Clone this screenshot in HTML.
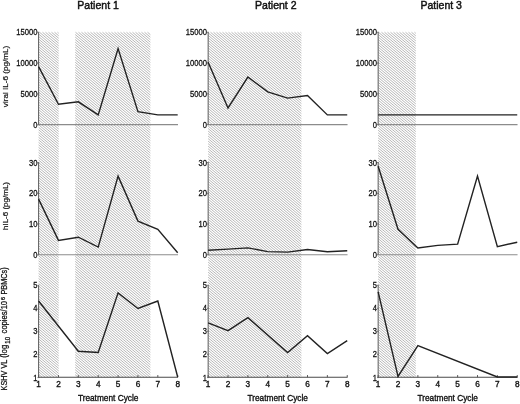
<!DOCTYPE html>
<html><head><meta charset="utf-8"><title>Figure</title>
<style>html,body{margin:0;padding:0;background:#fff;}body{width:520px;height:404px;overflow:hidden;font-family:"Liberation Sans",sans-serif;}svg{display:block;will-change:transform;}</style>
</head><body>
<svg width="520" height="404" viewBox="0 0 520 404">
<rect width="520" height="404" fill="#fff"/>
<defs><clipPath id="hc">
<rect x="38.60" y="32.3" width="20.11" height="345"/>
<rect x="75.20" y="32.3" width="75.19" height="345"/>
<rect x="208.15" y="32.3" width="93.25" height="345"/>
<rect x="378.15" y="32.3" width="37.65" height="345"/>
</clipPath></defs>
<path d="M38.60 376.73L39.39 377.40M38.60 374.21L42.39 377.40M38.60 371.69L45.39 377.40M38.60 369.17L48.39 377.40M38.60 366.65L51.39 377.40M38.60 364.13L54.39 377.40M38.60 361.61L57.39 377.40M38.60 359.09L58.71 375.99M38.60 356.57L58.71 373.47M38.60 354.05L58.71 370.95M38.60 351.53L58.71 368.43M38.60 349.01L58.71 365.91M38.60 346.49L58.71 363.39M38.60 343.97L58.71 360.87M38.60 341.45L58.71 358.35M38.60 338.93L58.71 355.83M38.60 336.41L58.71 353.31M38.60 333.89L58.71 350.79M38.60 331.37L58.71 348.27M38.60 328.85L58.71 345.75M38.60 326.33L58.71 343.23M38.60 323.81L58.71 340.71M38.60 321.29L58.71 338.19M38.60 318.77L58.71 335.67M38.60 316.25L58.71 333.15M38.60 313.73L58.71 330.63M38.60 311.21L58.71 328.11M38.60 308.69L58.71 325.59M38.60 306.17L58.71 323.07M38.60 303.65L58.71 320.55M38.60 301.13L58.71 318.03M38.60 298.61L58.71 315.51M38.60 296.09L58.71 312.99M38.60 293.57L58.71 310.47M38.60 291.05L58.71 307.95M38.60 288.53L58.71 305.43M38.60 286.01L58.71 302.91M38.60 283.49L58.71 300.39M38.60 280.97L58.71 297.87M38.60 278.45L58.71 295.35M38.60 275.93L58.71 292.83M38.60 273.41L58.71 290.31M38.60 270.89L58.71 287.79M38.60 268.37L58.71 285.27M38.60 265.85L58.71 282.75M38.60 263.33L58.71 280.23M38.60 260.81L58.71 277.71M38.60 258.29L58.71 275.19M38.60 255.77L58.71 272.67M38.60 253.25L58.71 270.15M38.60 250.73L58.71 267.63M38.60 248.21L58.71 265.11M38.60 245.69L58.71 262.59M38.60 243.17L58.71 260.07M38.60 240.65L58.71 257.55M38.60 238.13L58.71 255.03M38.60 235.61L58.71 252.51M38.60 233.09L58.71 249.99M38.60 230.57L58.71 247.47M38.60 228.05L58.71 244.95M38.60 225.53L58.71 242.43M38.60 223.01L58.71 239.91M38.60 220.49L58.71 237.39M38.60 217.97L58.71 234.87M38.60 215.45L58.71 232.35M38.60 212.93L58.71 229.83M38.60 210.41L58.71 227.31M38.60 207.89L58.71 224.79M38.60 205.37L58.71 222.27M38.60 202.85L58.71 219.75M38.60 200.33L58.71 217.23M38.60 197.81L58.71 214.71M38.60 195.29L58.71 212.19M38.60 192.77L58.71 209.67M38.60 190.25L58.71 207.15M38.60 187.73L58.71 204.63M38.60 185.21L58.71 202.11M38.60 182.69L58.71 199.59M38.60 180.17L58.71 197.07M38.60 177.65L58.71 194.55M38.60 175.13L58.71 192.03M38.60 172.61L58.71 189.51M38.60 170.09L58.71 186.99M38.60 167.57L58.71 184.47M38.60 165.05L58.71 181.95M38.60 162.53L58.71 179.43M38.60 160.01L58.71 176.91M38.60 157.49L58.71 174.39M38.60 154.97L58.71 171.87M38.60 152.45L58.71 169.35M38.60 149.93L58.71 166.83M38.60 147.41L58.71 164.31M38.60 144.89L58.71 161.79M38.60 142.37L58.71 159.27M38.60 139.85L58.71 156.75M38.60 137.33L58.71 154.23M38.60 134.81L58.71 151.71M38.60 132.29L58.71 149.19M38.60 129.77L58.71 146.67M38.60 127.25L58.71 144.15M38.60 124.73L58.71 141.63M38.60 122.21L58.71 139.11M38.60 119.69L58.71 136.59M38.60 117.17L58.71 134.07M38.60 114.65L58.71 131.55M38.60 112.13L58.71 129.03M38.60 109.61L58.71 126.51M38.60 107.09L58.71 123.99M38.60 104.57L58.71 121.47M38.60 102.05L58.71 118.95M38.60 99.53L58.71 116.43M38.60 97.01L58.71 113.91M38.60 94.49L58.71 111.39M38.60 91.97L58.71 108.87M38.60 89.45L58.71 106.35M38.60 86.93L58.71 103.83M38.60 84.41L58.71 101.31M38.60 81.89L58.71 98.79M38.60 79.37L58.71 96.27M38.60 76.85L58.71 93.75M38.60 74.33L58.71 91.23M38.60 71.81L58.71 88.71M38.60 69.29L58.71 86.19M38.60 66.77L58.71 83.67M38.60 64.25L58.71 81.15M38.60 61.73L58.71 78.63M38.60 59.21L58.71 76.11M38.60 56.69L58.71 73.59M38.60 54.17L58.71 71.07M38.60 51.65L58.71 68.55M38.60 49.13L58.71 66.03M38.60 46.61L58.71 63.51M38.60 44.09L58.71 60.99M38.60 41.57L58.71 58.47M38.60 39.05L58.71 55.95M38.60 36.53L58.71 53.43M38.60 34.01L58.71 50.91M39.50 32.25L58.71 48.39M42.50 32.25L58.71 45.87M45.50 32.25L58.71 43.35M48.50 32.25L58.71 40.83M51.50 32.25L58.71 38.31M54.50 32.25L58.71 35.79M57.50 32.25L58.71 33.27M75.20 377.24L75.39 377.40M75.20 374.72L78.39 377.40M75.20 372.20L81.39 377.40M75.20 369.68L84.39 377.40M75.20 367.16L87.39 377.40M75.20 364.64L90.39 377.40M75.20 362.12L93.39 377.40M75.20 359.60L96.39 377.40M75.20 357.08L99.39 377.40M75.20 354.56L102.39 377.40M75.20 352.04L105.39 377.40M75.20 349.52L108.39 377.40M75.20 347.00L111.39 377.40M75.20 344.48L114.39 377.40M75.20 341.96L117.39 377.40M75.20 339.44L120.39 377.40M75.20 336.92L123.39 377.40M75.20 334.40L126.39 377.40M75.20 331.88L129.39 377.40M75.20 329.36L132.39 377.40M75.20 326.84L135.39 377.40M75.20 324.32L138.39 377.40M75.20 321.80L141.39 377.40M75.20 319.28L144.39 377.40M75.20 316.76L147.39 377.40M75.20 314.24L150.39 377.40M75.20 311.72L150.39 374.88M75.20 309.20L150.39 372.36M75.20 306.68L150.39 369.84M75.20 304.16L150.39 367.32M75.20 301.64L150.39 364.80M75.20 299.12L150.39 362.28M75.20 296.60L150.39 359.76M75.20 294.08L150.39 357.24M75.20 291.56L150.39 354.72M75.20 289.04L150.39 352.20M75.20 286.52L150.39 349.68M75.20 284.00L150.39 347.16M75.20 281.48L150.39 344.64M75.20 278.96L150.39 342.12M75.20 276.44L150.39 339.60M75.20 273.92L150.39 337.08M75.20 271.40L150.39 334.56M75.20 268.88L150.39 332.04M75.20 266.36L150.39 329.52M75.20 263.84L150.39 327.00M75.20 261.32L150.39 324.48M75.20 258.80L150.39 321.96M75.20 256.28L150.39 319.44M75.20 253.76L150.39 316.92M75.20 251.24L150.39 314.40M75.20 248.72L150.39 311.88M75.20 246.20L150.39 309.36M75.20 243.68L150.39 306.84M75.20 241.16L150.39 304.32M75.20 238.64L150.39 301.80M75.20 236.12L150.39 299.28M75.20 233.60L150.39 296.76M75.20 231.08L150.39 294.24M75.20 228.56L150.39 291.72M75.20 226.04L150.39 289.20M75.20 223.52L150.39 286.68M75.20 221.00L150.39 284.16M75.20 218.48L150.39 281.64M75.20 215.96L150.39 279.12M75.20 213.44L150.39 276.60M75.20 210.92L150.39 274.08M75.20 208.40L150.39 271.56M75.20 205.88L150.39 269.04M75.20 203.36L150.39 266.52M75.20 200.84L150.39 264.00M75.20 198.32L150.39 261.48M75.20 195.80L150.39 258.96M75.20 193.28L150.39 256.44M75.20 190.76L150.39 253.92M75.20 188.24L150.39 251.40M75.20 185.72L150.39 248.88M75.20 183.20L150.39 246.36M75.20 180.68L150.39 243.84M75.20 178.16L150.39 241.32M75.20 175.64L150.39 238.80M75.20 173.12L150.39 236.28M75.20 170.60L150.39 233.76M75.20 168.08L150.39 231.24M75.20 165.56L150.39 228.72M75.20 163.04L150.39 226.20M75.20 160.52L150.39 223.68M75.20 158.00L150.39 221.16M75.20 155.48L150.39 218.64M75.20 152.96L150.39 216.12M75.20 150.44L150.39 213.60M75.20 147.92L150.39 211.08M75.20 145.40L150.39 208.56M75.20 142.88L150.39 206.04M75.20 140.36L150.39 203.52M75.20 137.84L150.39 201.00M75.20 135.32L150.39 198.48M75.20 132.80L150.39 195.96M75.20 130.28L150.39 193.44M75.20 127.76L150.39 190.92M75.20 125.24L150.39 188.40M75.20 122.72L150.39 185.88M75.20 120.20L150.39 183.36M75.20 117.68L150.39 180.84M75.20 115.16L150.39 178.32M75.20 112.64L150.39 175.80M75.20 110.12L150.39 173.28M75.20 107.60L150.39 170.76M75.20 105.08L150.39 168.24M75.20 102.56L150.39 165.72M75.20 100.04L150.39 163.20M75.20 97.52L150.39 160.68M75.20 95.00L150.39 158.16M75.20 92.48L150.39 155.64M75.20 89.96L150.39 153.12M75.20 87.44L150.39 150.60M75.20 84.92L150.39 148.08M75.20 82.40L150.39 145.56M75.20 79.88L150.39 143.04M75.20 77.36L150.39 140.52M75.20 74.84L150.39 138.00M75.20 72.32L150.39 135.48M75.20 69.80L150.39 132.96M75.20 67.28L150.39 130.44M75.20 64.76L150.39 127.92M75.20 62.24L150.39 125.40M75.20 59.72L150.39 122.88M75.20 57.20L150.39 120.36M75.20 54.68L150.39 117.84M75.20 52.16L150.39 115.32M75.20 49.64L150.39 112.80M75.20 47.12L150.39 110.28M75.20 44.60L150.39 107.76M75.20 42.08L150.39 105.24M75.20 39.56L150.39 102.72M75.20 37.04L150.39 100.20M75.20 34.52L150.39 97.68M75.50 32.25L150.39 95.16M78.50 32.25L150.39 92.64M81.50 32.25L150.39 90.12M84.50 32.25L150.39 87.60M87.50 32.25L150.39 85.08M90.50 32.25L150.39 82.56M93.50 32.25L150.39 80.04M96.50 32.25L150.39 77.52M99.50 32.25L150.39 75.00M102.50 32.25L150.39 72.48M105.50 32.25L150.39 69.96M108.50 32.25L150.39 67.44M111.50 32.25L150.39 64.92M114.50 32.25L150.39 62.40M117.50 32.25L150.39 59.88M120.50 32.25L150.39 57.36M123.50 32.25L150.39 54.84M126.50 32.25L150.39 52.32M129.50 32.25L150.39 49.80M132.50 32.25L150.39 47.28M135.50 32.25L150.39 44.76M138.50 32.25L150.39 42.24M141.50 32.25L150.39 39.72M144.50 32.25L150.39 37.20M147.50 32.25L150.39 34.68M208.15 375.52L210.39 377.40M208.15 373.00L213.39 377.40M208.15 370.48L216.39 377.40M208.15 367.96L219.39 377.40M208.15 365.44L222.39 377.40M208.15 362.92L225.39 377.40M208.15 360.40L228.39 377.40M208.15 357.88L231.39 377.40M208.15 355.36L234.39 377.40M208.15 352.84L237.39 377.40M208.15 350.32L240.39 377.40M208.15 347.80L243.39 377.40M208.15 345.28L246.39 377.40M208.15 342.76L249.39 377.40M208.15 340.24L252.39 377.40M208.15 337.72L255.39 377.40M208.15 335.20L258.39 377.40M208.15 332.68L261.39 377.40M208.15 330.16L264.39 377.40M208.15 327.64L267.39 377.40M208.15 325.12L270.39 377.40M208.15 322.60L273.39 377.40M208.15 320.08L276.39 377.40M208.15 317.56L279.39 377.40M208.15 315.04L282.39 377.40M208.15 312.52L285.39 377.40M208.15 310.00L288.39 377.40M208.15 307.48L291.39 377.40M208.15 304.96L294.39 377.40M208.15 302.44L297.39 377.40M208.15 299.92L300.39 377.40M208.15 297.40L301.40 375.73M208.15 294.88L301.40 373.21M208.15 292.36L301.40 370.69M208.15 289.84L301.40 368.17M208.15 287.32L301.40 365.65M208.15 284.80L301.40 363.13M208.15 282.28L301.40 360.61M208.15 279.76L301.40 358.09M208.15 277.24L301.40 355.57M208.15 274.72L301.40 353.05M208.15 272.20L301.40 350.53M208.15 269.68L301.40 348.01M208.15 267.16L301.40 345.49M208.15 264.64L301.40 342.97M208.15 262.12L301.40 340.45M208.15 259.60L301.40 337.93M208.15 257.08L301.40 335.41M208.15 254.56L301.40 332.89M208.15 252.04L301.40 330.37M208.15 249.52L301.40 327.85M208.15 247.00L301.40 325.33M208.15 244.48L301.40 322.81M208.15 241.96L301.40 320.29M208.15 239.44L301.40 317.77M208.15 236.92L301.40 315.25M208.15 234.40L301.40 312.73M208.15 231.88L301.40 310.21M208.15 229.36L301.40 307.69M208.15 226.84L301.40 305.17M208.15 224.32L301.40 302.65M208.15 221.80L301.40 300.13M208.15 219.28L301.40 297.61M208.15 216.76L301.40 295.09M208.15 214.24L301.40 292.57M208.15 211.72L301.40 290.05M208.15 209.20L301.40 287.53M208.15 206.68L301.40 285.01M208.15 204.16L301.40 282.49M208.15 201.64L301.40 279.97M208.15 199.12L301.40 277.45M208.15 196.60L301.40 274.93M208.15 194.08L301.40 272.41M208.15 191.56L301.40 269.89M208.15 189.04L301.40 267.37M208.15 186.52L301.40 264.85M208.15 184.00L301.40 262.33M208.15 181.48L301.40 259.81M208.15 178.96L301.40 257.29M208.15 176.44L301.40 254.77M208.15 173.92L301.40 252.25M208.15 171.40L301.40 249.73M208.15 168.88L301.40 247.21M208.15 166.36L301.40 244.69M208.15 163.84L301.40 242.17M208.15 161.32L301.40 239.65M208.15 158.80L301.40 237.13M208.15 156.28L301.40 234.61M208.15 153.76L301.40 232.09M208.15 151.24L301.40 229.57M208.15 148.72L301.40 227.05M208.15 146.20L301.40 224.53M208.15 143.68L301.40 222.01M208.15 141.16L301.40 219.49M208.15 138.64L301.40 216.97M208.15 136.12L301.40 214.45M208.15 133.60L301.40 211.93M208.15 131.08L301.40 209.41M208.15 128.56L301.40 206.89M208.15 126.04L301.40 204.37M208.15 123.52L301.40 201.85M208.15 121.00L301.40 199.33M208.15 118.48L301.40 196.81M208.15 115.96L301.40 194.29M208.15 113.44L301.40 191.77M208.15 110.92L301.40 189.25M208.15 108.40L301.40 186.73M208.15 105.88L301.40 184.21M208.15 103.36L301.40 181.69M208.15 100.84L301.40 179.17M208.15 98.32L301.40 176.65M208.15 95.80L301.40 174.13M208.15 93.28L301.40 171.61M208.15 90.76L301.40 169.09M208.15 88.24L301.40 166.57M208.15 85.72L301.40 164.05M208.15 83.20L301.40 161.53M208.15 80.68L301.40 159.01M208.15 78.16L301.40 156.49M208.15 75.64L301.40 153.97M208.15 73.12L301.40 151.45M208.15 70.60L301.40 148.93M208.15 68.08L301.40 146.41M208.15 65.56L301.40 143.89M208.15 63.04L301.40 141.37M208.15 60.52L301.40 138.85M208.15 58.00L301.40 136.33M208.15 55.48L301.40 133.81M208.15 52.96L301.40 131.29M208.15 50.44L301.40 128.77M208.15 47.92L301.40 126.25M208.15 45.40L301.40 123.73M208.15 42.88L301.40 121.21M208.15 40.36L301.40 118.69M208.15 37.84L301.40 116.17M208.15 35.32L301.40 113.65M208.15 32.80L301.40 111.13M210.50 32.25L301.40 108.61M213.50 32.25L301.40 106.09M216.50 32.25L301.40 103.57M219.50 32.25L301.40 101.05M222.50 32.25L301.40 98.53M225.50 32.25L301.40 96.01M228.50 32.25L301.40 93.49M231.50 32.25L301.40 90.97M234.50 32.25L301.40 88.45M237.50 32.25L301.40 85.93M240.50 32.25L301.40 83.41M243.50 32.25L301.40 80.89M246.50 32.25L301.40 78.37M249.50 32.25L301.40 75.85M252.50 32.25L301.40 73.33M255.50 32.25L301.40 70.81M258.50 32.25L301.40 68.29M261.50 32.25L301.40 65.77M264.50 32.25L301.40 63.25M267.50 32.25L301.40 60.73M270.50 32.25L301.40 58.21M273.50 32.25L301.40 55.69M276.50 32.25L301.40 53.17M279.50 32.25L301.40 50.65M282.50 32.25L301.40 48.13M285.50 32.25L301.40 45.61M288.50 32.25L301.40 43.09M291.50 32.25L301.40 40.57M294.50 32.25L301.40 38.05M297.50 32.25L301.40 35.53M300.50 32.25L301.40 33.01M378.15 377.20L378.39 377.40M378.15 374.68L381.39 377.40M378.15 372.16L384.39 377.40M378.15 369.64L387.39 377.40M378.15 367.12L390.39 377.40M378.15 364.60L393.39 377.40M378.15 362.08L396.39 377.40M378.15 359.56L399.39 377.40M378.15 357.04L402.39 377.40M378.15 354.52L405.39 377.40M378.15 352.00L408.39 377.40M378.15 349.48L411.39 377.40M378.15 346.96L414.39 377.40M378.15 344.44L415.80 376.07M378.15 341.92L415.80 373.55M378.15 339.40L415.80 371.03M378.15 336.88L415.80 368.51M378.15 334.36L415.80 365.99M378.15 331.84L415.80 363.47M378.15 329.32L415.80 360.95M378.15 326.80L415.80 358.43M378.15 324.28L415.80 355.91M378.15 321.76L415.80 353.39M378.15 319.24L415.80 350.87M378.15 316.72L415.80 348.35M378.15 314.20L415.80 345.83M378.15 311.68L415.80 343.31M378.15 309.16L415.80 340.79M378.15 306.64L415.80 338.27M378.15 304.12L415.80 335.75M378.15 301.60L415.80 333.23M378.15 299.08L415.80 330.71M378.15 296.56L415.80 328.19M378.15 294.04L415.80 325.67M378.15 291.52L415.80 323.15M378.15 289.00L415.80 320.63M378.15 286.48L415.80 318.11M378.15 283.96L415.80 315.59M378.15 281.44L415.80 313.07M378.15 278.92L415.80 310.55M378.15 276.40L415.80 308.03M378.15 273.88L415.80 305.51M378.15 271.36L415.80 302.99M378.15 268.84L415.80 300.47M378.15 266.32L415.80 297.95M378.15 263.80L415.80 295.43M378.15 261.28L415.80 292.91M378.15 258.76L415.80 290.39M378.15 256.24L415.80 287.87M378.15 253.72L415.80 285.35M378.15 251.20L415.80 282.83M378.15 248.68L415.80 280.31M378.15 246.16L415.80 277.79M378.15 243.64L415.80 275.27M378.15 241.12L415.80 272.75M378.15 238.60L415.80 270.23M378.15 236.08L415.80 267.71M378.15 233.56L415.80 265.19M378.15 231.04L415.80 262.67M378.15 228.52L415.80 260.15M378.15 226.00L415.80 257.63M378.15 223.48L415.80 255.11M378.15 220.96L415.80 252.59M378.15 218.44L415.80 250.07M378.15 215.92L415.80 247.55M378.15 213.40L415.80 245.03M378.15 210.88L415.80 242.51M378.15 208.36L415.80 239.99M378.15 205.84L415.80 237.47M378.15 203.32L415.80 234.95M378.15 200.80L415.80 232.43M378.15 198.28L415.80 229.91M378.15 195.76L415.80 227.39M378.15 193.24L415.80 224.87M378.15 190.72L415.80 222.35M378.15 188.20L415.80 219.83M378.15 185.68L415.80 217.31M378.15 183.16L415.80 214.79M378.15 180.64L415.80 212.27M378.15 178.12L415.80 209.75M378.15 175.60L415.80 207.23M378.15 173.08L415.80 204.71M378.15 170.56L415.80 202.19M378.15 168.04L415.80 199.67M378.15 165.52L415.80 197.15M378.15 163.00L415.80 194.63M378.15 160.48L415.80 192.11M378.15 157.96L415.80 189.59M378.15 155.44L415.80 187.07M378.15 152.92L415.80 184.55M378.15 150.40L415.80 182.03M378.15 147.88L415.80 179.51M378.15 145.36L415.80 176.99M378.15 142.84L415.80 174.47M378.15 140.32L415.80 171.95M378.15 137.80L415.80 169.43M378.15 135.28L415.80 166.91M378.15 132.76L415.80 164.39M378.15 130.24L415.80 161.87M378.15 127.72L415.80 159.35M378.15 125.20L415.80 156.83M378.15 122.68L415.80 154.31M378.15 120.16L415.80 151.79M378.15 117.64L415.80 149.27M378.15 115.12L415.80 146.75M378.15 112.60L415.80 144.23M378.15 110.08L415.80 141.71M378.15 107.56L415.80 139.19M378.15 105.04L415.80 136.67M378.15 102.52L415.80 134.15M378.15 100.00L415.80 131.63M378.15 97.48L415.80 129.11M378.15 94.96L415.80 126.59M378.15 92.44L415.80 124.07M378.15 89.92L415.80 121.55M378.15 87.40L415.80 119.03M378.15 84.88L415.80 116.51M378.15 82.36L415.80 113.99M378.15 79.84L415.80 111.47M378.15 77.32L415.80 108.95M378.15 74.80L415.80 106.43M378.15 72.28L415.80 103.91M378.15 69.76L415.80 101.39M378.15 67.24L415.80 98.87M378.15 64.72L415.80 96.35M378.15 62.20L415.80 93.83M378.15 59.68L415.80 91.31M378.15 57.16L415.80 88.79M378.15 54.64L415.80 86.27M378.15 52.12L415.80 83.75M378.15 49.60L415.80 81.23M378.15 47.08L415.80 78.71M378.15 44.56L415.80 76.19M378.15 42.04L415.80 73.67M378.15 39.52L415.80 71.15M378.15 37.00L415.80 68.63M378.15 34.48L415.80 66.11M378.50 32.25L415.80 63.59M381.50 32.25L415.80 61.07M384.50 32.25L415.80 58.55M387.50 32.25L415.80 56.03M390.50 32.25L415.80 53.51M393.50 32.25L415.80 50.99M396.50 32.25L415.80 48.47M399.50 32.25L415.80 45.95M402.50 32.25L415.80 43.43M405.50 32.25L415.80 40.91M408.50 32.25L415.80 38.39M411.50 32.25L415.80 35.87M414.50 32.25L415.80 33.35" stroke="#a0a0a0" stroke-width="0.75" fill="none"/>
<line x1="38.60" y1="32.25" x2="38.60" y2="124.65" stroke="#5c5c5c" stroke-width="1"/>
<line x1="38.10" y1="124.65" x2="177.99" y2="124.65" stroke="#8c8c8c" stroke-width="1.1"/>
<line x1="37.50" y1="32.25" x2="39.20" y2="32.25" stroke="#5c5c5c" stroke-width="0.8"/>
<line x1="37.50" y1="63.10" x2="39.20" y2="63.10" stroke="#5c5c5c" stroke-width="0.8"/>
<line x1="37.50" y1="93.90" x2="39.20" y2="93.90" stroke="#5c5c5c" stroke-width="0.8"/>
<line x1="37.50" y1="124.70" x2="39.20" y2="124.70" stroke="#5c5c5c" stroke-width="0.8"/>
<line x1="38.60" y1="162.50" x2="38.60" y2="254.75" stroke="#5c5c5c" stroke-width="1"/>
<line x1="38.10" y1="254.75" x2="177.99" y2="254.75" stroke="#8c8c8c" stroke-width="1.1"/>
<line x1="37.50" y1="162.50" x2="39.20" y2="162.50" stroke="#5c5c5c" stroke-width="0.8"/>
<line x1="37.50" y1="193.30" x2="39.20" y2="193.30" stroke="#5c5c5c" stroke-width="0.8"/>
<line x1="37.50" y1="224.00" x2="39.20" y2="224.00" stroke="#5c5c5c" stroke-width="0.8"/>
<line x1="37.50" y1="254.80" x2="39.20" y2="254.80" stroke="#5c5c5c" stroke-width="0.8"/>
<line x1="38.60" y1="285.30" x2="38.60" y2="377.30" stroke="#5c5c5c" stroke-width="1"/>
<line x1="38.10" y1="377.30" x2="177.99" y2="377.30" stroke="#4a4a4a" stroke-width="1.1"/>
<line x1="37.50" y1="285.30" x2="39.20" y2="285.30" stroke="#5c5c5c" stroke-width="0.8"/>
<line x1="37.50" y1="308.30" x2="39.20" y2="308.30" stroke="#5c5c5c" stroke-width="0.8"/>
<line x1="37.50" y1="331.30" x2="39.20" y2="331.30" stroke="#5c5c5c" stroke-width="0.8"/>
<line x1="37.50" y1="354.30" x2="39.20" y2="354.30" stroke="#5c5c5c" stroke-width="0.8"/>
<line x1="37.50" y1="377.60" x2="39.20" y2="377.60" stroke="#5c5c5c" stroke-width="0.8"/>
<line x1="38.60" y1="377.30" x2="38.60" y2="375.10" stroke="#555" stroke-width="1"/>
<line x1="58.47" y1="377.30" x2="58.47" y2="375.10" stroke="#555" stroke-width="1"/>
<line x1="78.34" y1="377.30" x2="78.34" y2="375.10" stroke="#555" stroke-width="1"/>
<line x1="98.21" y1="377.30" x2="98.21" y2="375.10" stroke="#555" stroke-width="1"/>
<line x1="118.08" y1="377.30" x2="118.08" y2="375.10" stroke="#555" stroke-width="1"/>
<line x1="137.95" y1="377.30" x2="137.95" y2="375.10" stroke="#555" stroke-width="1"/>
<line x1="157.82" y1="377.30" x2="157.82" y2="375.10" stroke="#555" stroke-width="1"/>
<line x1="177.69" y1="377.30" x2="177.69" y2="375.10" stroke="#555" stroke-width="1"/>
<line x1="208.15" y1="32.25" x2="208.15" y2="124.65" stroke="#5c5c5c" stroke-width="1"/>
<line x1="207.65" y1="124.65" x2="347.54" y2="124.65" stroke="#8c8c8c" stroke-width="1.1"/>
<line x1="207.05" y1="32.25" x2="208.75" y2="32.25" stroke="#5c5c5c" stroke-width="0.8"/>
<line x1="207.05" y1="63.10" x2="208.75" y2="63.10" stroke="#5c5c5c" stroke-width="0.8"/>
<line x1="207.05" y1="93.90" x2="208.75" y2="93.90" stroke="#5c5c5c" stroke-width="0.8"/>
<line x1="207.05" y1="124.70" x2="208.75" y2="124.70" stroke="#5c5c5c" stroke-width="0.8"/>
<line x1="208.15" y1="162.50" x2="208.15" y2="254.75" stroke="#5c5c5c" stroke-width="1"/>
<line x1="207.65" y1="254.75" x2="347.54" y2="254.75" stroke="#8c8c8c" stroke-width="1.1"/>
<line x1="207.05" y1="162.50" x2="208.75" y2="162.50" stroke="#5c5c5c" stroke-width="0.8"/>
<line x1="207.05" y1="193.30" x2="208.75" y2="193.30" stroke="#5c5c5c" stroke-width="0.8"/>
<line x1="207.05" y1="224.00" x2="208.75" y2="224.00" stroke="#5c5c5c" stroke-width="0.8"/>
<line x1="207.05" y1="254.80" x2="208.75" y2="254.80" stroke="#5c5c5c" stroke-width="0.8"/>
<line x1="208.15" y1="285.30" x2="208.15" y2="377.30" stroke="#5c5c5c" stroke-width="1"/>
<line x1="207.65" y1="377.30" x2="347.54" y2="377.30" stroke="#4a4a4a" stroke-width="1.1"/>
<line x1="207.05" y1="285.30" x2="208.75" y2="285.30" stroke="#5c5c5c" stroke-width="0.8"/>
<line x1="207.05" y1="308.30" x2="208.75" y2="308.30" stroke="#5c5c5c" stroke-width="0.8"/>
<line x1="207.05" y1="331.30" x2="208.75" y2="331.30" stroke="#5c5c5c" stroke-width="0.8"/>
<line x1="207.05" y1="354.30" x2="208.75" y2="354.30" stroke="#5c5c5c" stroke-width="0.8"/>
<line x1="207.05" y1="377.60" x2="208.75" y2="377.60" stroke="#5c5c5c" stroke-width="0.8"/>
<line x1="208.15" y1="377.30" x2="208.15" y2="375.10" stroke="#555" stroke-width="1"/>
<line x1="228.02" y1="377.30" x2="228.02" y2="375.10" stroke="#555" stroke-width="1"/>
<line x1="247.89" y1="377.30" x2="247.89" y2="375.10" stroke="#555" stroke-width="1"/>
<line x1="267.76" y1="377.30" x2="267.76" y2="375.10" stroke="#555" stroke-width="1"/>
<line x1="287.63" y1="377.30" x2="287.63" y2="375.10" stroke="#555" stroke-width="1"/>
<line x1="307.50" y1="377.30" x2="307.50" y2="375.10" stroke="#555" stroke-width="1"/>
<line x1="327.37" y1="377.30" x2="327.37" y2="375.10" stroke="#555" stroke-width="1"/>
<line x1="347.24" y1="377.30" x2="347.24" y2="375.10" stroke="#555" stroke-width="1"/>
<line x1="378.15" y1="32.25" x2="378.15" y2="124.65" stroke="#5c5c5c" stroke-width="1"/>
<line x1="377.65" y1="124.65" x2="517.54" y2="124.65" stroke="#8c8c8c" stroke-width="1.1"/>
<line x1="377.05" y1="32.25" x2="378.75" y2="32.25" stroke="#5c5c5c" stroke-width="0.8"/>
<line x1="377.05" y1="63.10" x2="378.75" y2="63.10" stroke="#5c5c5c" stroke-width="0.8"/>
<line x1="377.05" y1="93.90" x2="378.75" y2="93.90" stroke="#5c5c5c" stroke-width="0.8"/>
<line x1="377.05" y1="124.70" x2="378.75" y2="124.70" stroke="#5c5c5c" stroke-width="0.8"/>
<line x1="378.15" y1="162.50" x2="378.15" y2="254.75" stroke="#5c5c5c" stroke-width="1"/>
<line x1="377.65" y1="254.75" x2="517.54" y2="254.75" stroke="#8c8c8c" stroke-width="1.1"/>
<line x1="377.05" y1="162.50" x2="378.75" y2="162.50" stroke="#5c5c5c" stroke-width="0.8"/>
<line x1="377.05" y1="193.30" x2="378.75" y2="193.30" stroke="#5c5c5c" stroke-width="0.8"/>
<line x1="377.05" y1="224.00" x2="378.75" y2="224.00" stroke="#5c5c5c" stroke-width="0.8"/>
<line x1="377.05" y1="254.80" x2="378.75" y2="254.80" stroke="#5c5c5c" stroke-width="0.8"/>
<line x1="378.15" y1="285.30" x2="378.15" y2="377.30" stroke="#5c5c5c" stroke-width="1"/>
<line x1="377.65" y1="377.30" x2="517.54" y2="377.30" stroke="#4a4a4a" stroke-width="1.1"/>
<line x1="377.05" y1="285.30" x2="378.75" y2="285.30" stroke="#5c5c5c" stroke-width="0.8"/>
<line x1="377.05" y1="308.30" x2="378.75" y2="308.30" stroke="#5c5c5c" stroke-width="0.8"/>
<line x1="377.05" y1="331.30" x2="378.75" y2="331.30" stroke="#5c5c5c" stroke-width="0.8"/>
<line x1="377.05" y1="354.30" x2="378.75" y2="354.30" stroke="#5c5c5c" stroke-width="0.8"/>
<line x1="377.05" y1="377.60" x2="378.75" y2="377.60" stroke="#5c5c5c" stroke-width="0.8"/>
<line x1="378.15" y1="377.30" x2="378.15" y2="375.10" stroke="#555" stroke-width="1"/>
<line x1="398.02" y1="377.30" x2="398.02" y2="375.10" stroke="#555" stroke-width="1"/>
<line x1="417.89" y1="377.30" x2="417.89" y2="375.10" stroke="#555" stroke-width="1"/>
<line x1="437.76" y1="377.30" x2="437.76" y2="375.10" stroke="#555" stroke-width="1"/>
<line x1="457.63" y1="377.30" x2="457.63" y2="375.10" stroke="#555" stroke-width="1"/>
<line x1="477.50" y1="377.30" x2="477.50" y2="375.10" stroke="#555" stroke-width="1"/>
<line x1="497.37" y1="377.30" x2="497.37" y2="375.10" stroke="#555" stroke-width="1"/>
<line x1="517.24" y1="377.30" x2="517.24" y2="375.10" stroke="#555" stroke-width="1"/>
<polyline points="38.60,66.60 58.47,104.30 78.34,101.80 98.21,114.90 118.08,48.60 137.95,111.70 157.82,114.90 177.69,114.90" fill="none" stroke="#222" stroke-width="1.4" stroke-linejoin="miter" stroke-linecap="butt"/>
<polyline points="38.60,199.10 58.47,240.40 78.34,237.20 98.21,247.10 118.08,176.10 137.95,221.10 157.82,229.30 177.69,252.80" fill="none" stroke="#222" stroke-width="1.4" stroke-linejoin="miter" stroke-linecap="butt"/>
<polyline points="38.60,301.00 78.34,351.30 98.21,352.50 118.08,292.90 137.95,308.50 157.82,301.00 177.69,377.00" fill="none" stroke="#222" stroke-width="1.4" stroke-linejoin="miter" stroke-linecap="butt"/>
<polyline points="208.15,62.20 228.02,108.00 247.89,77.00 267.76,91.90 287.63,98.10 307.50,95.60 327.37,114.90 347.24,114.90" fill="none" stroke="#222" stroke-width="1.4" stroke-linejoin="miter" stroke-linecap="butt"/>
<polyline points="208.15,250.30 228.02,249.10 247.89,247.90 267.76,251.60 287.63,252.10 307.50,249.50 327.37,251.70 347.24,250.70" fill="none" stroke="#222" stroke-width="1.4" stroke-linejoin="miter" stroke-linecap="butt"/>
<polyline points="208.15,322.80 228.02,330.70 247.89,317.60 287.63,352.50 307.50,335.70 327.37,353.50 347.24,340.60" fill="none" stroke="#222" stroke-width="1.4" stroke-linejoin="miter" stroke-linecap="butt"/>
<polyline points="378.15,114.90 517.24,114.90" fill="none" stroke="#222" stroke-width="1.4" stroke-linejoin="miter" stroke-linecap="butt"/>
<polyline points="378.15,166.20 398.02,229.30 417.89,247.90 437.76,245.40 457.63,244.20 477.50,176.10 497.37,246.60 517.24,242.20" fill="none" stroke="#222" stroke-width="1.4" stroke-linejoin="miter" stroke-linecap="butt"/>
<polyline points="378.15,291.90 398.02,376.50 417.89,345.60 497.37,377.00 517.24,377.00" fill="none" stroke="#222" stroke-width="1.4" stroke-linejoin="miter" stroke-linecap="butt"/>
<g font-family='"Liberation Sans", sans-serif' fill="#111" stroke="#111" stroke-width="0.28">
<text x="37.40" y="35.25" font-size="8.7" text-anchor="end" textLength="21.2" lengthAdjust="spacingAndGlyphs">15000</text>
<text x="37.40" y="66.10" font-size="8.7" text-anchor="end" textLength="21.2" lengthAdjust="spacingAndGlyphs">10000</text>
<text x="37.40" y="96.90" font-size="8.7" text-anchor="end" textLength="17.0" lengthAdjust="spacingAndGlyphs">5000</text>
<text x="37.40" y="127.70" font-size="8.7" text-anchor="end" textLength="4.2" lengthAdjust="spacingAndGlyphs">0</text>
<text x="37.40" y="165.50" font-size="8.7" text-anchor="end" textLength="8.5" lengthAdjust="spacingAndGlyphs">30</text>
<text x="37.40" y="196.30" font-size="8.7" text-anchor="end" textLength="8.5" lengthAdjust="spacingAndGlyphs">20</text>
<text x="37.40" y="227.00" font-size="8.7" text-anchor="end" textLength="8.5" lengthAdjust="spacingAndGlyphs">10</text>
<text x="37.40" y="257.80" font-size="8.7" text-anchor="end" textLength="4.2" lengthAdjust="spacingAndGlyphs">0</text>
<text x="37.40" y="288.30" font-size="8.7" text-anchor="end" textLength="4.2" lengthAdjust="spacingAndGlyphs">5</text>
<text x="37.40" y="311.30" font-size="8.7" text-anchor="end" textLength="4.2" lengthAdjust="spacingAndGlyphs">4</text>
<text x="37.40" y="334.30" font-size="8.7" text-anchor="end" textLength="4.2" lengthAdjust="spacingAndGlyphs">3</text>
<text x="37.40" y="357.30" font-size="8.7" text-anchor="end" textLength="4.2" lengthAdjust="spacingAndGlyphs">2</text>
<text x="37.40" y="380.60" font-size="8.7" text-anchor="end" textLength="4.2" lengthAdjust="spacingAndGlyphs">1</text>
<text x="38.60" y="387" font-size="8.8" stroke-width="0.35" text-anchor="middle" textLength="4.6" lengthAdjust="spacingAndGlyphs">1</text>
<text x="58.47" y="387" font-size="8.8" stroke-width="0.35" text-anchor="middle" textLength="4.6" lengthAdjust="spacingAndGlyphs">2</text>
<text x="78.34" y="387" font-size="8.8" stroke-width="0.35" text-anchor="middle" textLength="4.6" lengthAdjust="spacingAndGlyphs">3</text>
<text x="98.21" y="387" font-size="8.8" stroke-width="0.35" text-anchor="middle" textLength="4.6" lengthAdjust="spacingAndGlyphs">4</text>
<text x="118.08" y="387" font-size="8.8" stroke-width="0.35" text-anchor="middle" textLength="4.6" lengthAdjust="spacingAndGlyphs">5</text>
<text x="137.95" y="387" font-size="8.8" stroke-width="0.35" text-anchor="middle" textLength="4.6" lengthAdjust="spacingAndGlyphs">6</text>
<text x="157.82" y="387" font-size="8.8" stroke-width="0.35" text-anchor="middle" textLength="4.6" lengthAdjust="spacingAndGlyphs">7</text>
<text x="177.69" y="387" font-size="8.8" stroke-width="0.35" text-anchor="middle" textLength="4.6" lengthAdjust="spacingAndGlyphs">8</text>
<text x="108.14" y="401.3" font-size="8.8" stroke-width="0.35" text-anchor="middle" textLength="60.5" lengthAdjust="spacingAndGlyphs">Treatment Cycle</text>
<text x="206.95" y="35.25" font-size="8.7" text-anchor="end" textLength="21.2" lengthAdjust="spacingAndGlyphs">15000</text>
<text x="206.95" y="66.10" font-size="8.7" text-anchor="end" textLength="21.2" lengthAdjust="spacingAndGlyphs">10000</text>
<text x="206.95" y="96.90" font-size="8.7" text-anchor="end" textLength="17.0" lengthAdjust="spacingAndGlyphs">5000</text>
<text x="206.95" y="127.70" font-size="8.7" text-anchor="end" textLength="4.2" lengthAdjust="spacingAndGlyphs">0</text>
<text x="206.95" y="165.50" font-size="8.7" text-anchor="end" textLength="8.5" lengthAdjust="spacingAndGlyphs">30</text>
<text x="206.95" y="196.30" font-size="8.7" text-anchor="end" textLength="8.5" lengthAdjust="spacingAndGlyphs">20</text>
<text x="206.95" y="227.00" font-size="8.7" text-anchor="end" textLength="8.5" lengthAdjust="spacingAndGlyphs">10</text>
<text x="206.95" y="257.80" font-size="8.7" text-anchor="end" textLength="4.2" lengthAdjust="spacingAndGlyphs">0</text>
<text x="206.95" y="288.30" font-size="8.7" text-anchor="end" textLength="4.2" lengthAdjust="spacingAndGlyphs">5</text>
<text x="206.95" y="311.30" font-size="8.7" text-anchor="end" textLength="4.2" lengthAdjust="spacingAndGlyphs">4</text>
<text x="206.95" y="334.30" font-size="8.7" text-anchor="end" textLength="4.2" lengthAdjust="spacingAndGlyphs">3</text>
<text x="206.95" y="357.30" font-size="8.7" text-anchor="end" textLength="4.2" lengthAdjust="spacingAndGlyphs">2</text>
<text x="206.95" y="380.60" font-size="8.7" text-anchor="end" textLength="4.2" lengthAdjust="spacingAndGlyphs">1</text>
<text x="208.15" y="387" font-size="8.8" stroke-width="0.35" text-anchor="middle" textLength="4.6" lengthAdjust="spacingAndGlyphs">1</text>
<text x="228.02" y="387" font-size="8.8" stroke-width="0.35" text-anchor="middle" textLength="4.6" lengthAdjust="spacingAndGlyphs">2</text>
<text x="247.89" y="387" font-size="8.8" stroke-width="0.35" text-anchor="middle" textLength="4.6" lengthAdjust="spacingAndGlyphs">3</text>
<text x="267.76" y="387" font-size="8.8" stroke-width="0.35" text-anchor="middle" textLength="4.6" lengthAdjust="spacingAndGlyphs">4</text>
<text x="287.63" y="387" font-size="8.8" stroke-width="0.35" text-anchor="middle" textLength="4.6" lengthAdjust="spacingAndGlyphs">5</text>
<text x="307.50" y="387" font-size="8.8" stroke-width="0.35" text-anchor="middle" textLength="4.6" lengthAdjust="spacingAndGlyphs">6</text>
<text x="327.37" y="387" font-size="8.8" stroke-width="0.35" text-anchor="middle" textLength="4.6" lengthAdjust="spacingAndGlyphs">7</text>
<text x="347.24" y="387" font-size="8.8" stroke-width="0.35" text-anchor="middle" textLength="4.6" lengthAdjust="spacingAndGlyphs">8</text>
<text x="277.69" y="401.3" font-size="8.8" stroke-width="0.35" text-anchor="middle" textLength="60.5" lengthAdjust="spacingAndGlyphs">Treatment Cycle</text>
<text x="376.95" y="35.25" font-size="8.7" text-anchor="end" textLength="21.2" lengthAdjust="spacingAndGlyphs">15000</text>
<text x="376.95" y="66.10" font-size="8.7" text-anchor="end" textLength="21.2" lengthAdjust="spacingAndGlyphs">10000</text>
<text x="376.95" y="96.90" font-size="8.7" text-anchor="end" textLength="17.0" lengthAdjust="spacingAndGlyphs">5000</text>
<text x="376.95" y="127.70" font-size="8.7" text-anchor="end" textLength="4.2" lengthAdjust="spacingAndGlyphs">0</text>
<text x="376.95" y="165.50" font-size="8.7" text-anchor="end" textLength="8.5" lengthAdjust="spacingAndGlyphs">30</text>
<text x="376.95" y="196.30" font-size="8.7" text-anchor="end" textLength="8.5" lengthAdjust="spacingAndGlyphs">20</text>
<text x="376.95" y="227.00" font-size="8.7" text-anchor="end" textLength="8.5" lengthAdjust="spacingAndGlyphs">10</text>
<text x="376.95" y="257.80" font-size="8.7" text-anchor="end" textLength="4.2" lengthAdjust="spacingAndGlyphs">0</text>
<text x="376.95" y="288.30" font-size="8.7" text-anchor="end" textLength="4.2" lengthAdjust="spacingAndGlyphs">5</text>
<text x="376.95" y="311.30" font-size="8.7" text-anchor="end" textLength="4.2" lengthAdjust="spacingAndGlyphs">4</text>
<text x="376.95" y="334.30" font-size="8.7" text-anchor="end" textLength="4.2" lengthAdjust="spacingAndGlyphs">3</text>
<text x="376.95" y="357.30" font-size="8.7" text-anchor="end" textLength="4.2" lengthAdjust="spacingAndGlyphs">2</text>
<text x="376.95" y="380.60" font-size="8.7" text-anchor="end" textLength="4.2" lengthAdjust="spacingAndGlyphs">1</text>
<text x="378.15" y="387" font-size="8.8" stroke-width="0.35" text-anchor="middle" textLength="4.6" lengthAdjust="spacingAndGlyphs">1</text>
<text x="398.02" y="387" font-size="8.8" stroke-width="0.35" text-anchor="middle" textLength="4.6" lengthAdjust="spacingAndGlyphs">2</text>
<text x="417.89" y="387" font-size="8.8" stroke-width="0.35" text-anchor="middle" textLength="4.6" lengthAdjust="spacingAndGlyphs">3</text>
<text x="437.76" y="387" font-size="8.8" stroke-width="0.35" text-anchor="middle" textLength="4.6" lengthAdjust="spacingAndGlyphs">4</text>
<text x="457.63" y="387" font-size="8.8" stroke-width="0.35" text-anchor="middle" textLength="4.6" lengthAdjust="spacingAndGlyphs">5</text>
<text x="477.50" y="387" font-size="8.8" stroke-width="0.35" text-anchor="middle" textLength="4.6" lengthAdjust="spacingAndGlyphs">6</text>
<text x="497.37" y="387" font-size="8.8" stroke-width="0.35" text-anchor="middle" textLength="4.6" lengthAdjust="spacingAndGlyphs">7</text>
<text x="517.24" y="387" font-size="8.8" stroke-width="0.35" text-anchor="middle" textLength="4.6" lengthAdjust="spacingAndGlyphs">8</text>
<text x="447.69" y="401.3" font-size="8.8" stroke-width="0.35" text-anchor="middle" textLength="60.5" lengthAdjust="spacingAndGlyphs">Treatment Cycle</text>
<text x="98.1" y="9.2" font-size="10.9" stroke-width="0.45" text-anchor="middle" textLength="41.5" lengthAdjust="spacingAndGlyphs">Patient 1</text>
<text x="275.8" y="9.2" font-size="10.9" stroke-width="0.45" text-anchor="middle" textLength="41.5" lengthAdjust="spacingAndGlyphs">Patient 2</text>
<text x="441.2" y="9.2" font-size="10.9" stroke-width="0.45" text-anchor="middle" textLength="41.5" lengthAdjust="spacingAndGlyphs">Patient 3</text>
<text transform="translate(8.4,76.5) rotate(-90)" font-size="7.7" stroke-width="0.2" text-anchor="middle" textLength="61.3" lengthAdjust="spacingAndGlyphs">viral IL-6 (pg/mL)</text>
<text transform="translate(8.4,206) rotate(-90)" font-size="7.7" stroke-width="0.2" text-anchor="middle" textLength="48" lengthAdjust="spacingAndGlyphs">hIL-6 (pg/mL)</text>
<text transform="translate(7.4,390.4) rotate(-90)" font-size="8.6" textLength="30.7" lengthAdjust="spacingAndGlyphs">KSHV VL</text>
<text transform="translate(7.4,357.7) rotate(-90)" font-size="8.6" textLength="12.9" lengthAdjust="spacingAndGlyphs">(log</text>
<text transform="translate(10.4,343.8) rotate(-90)" font-size="6.4" textLength="6.9" lengthAdjust="spacingAndGlyphs">10</text>
<text transform="translate(7.4,333.4) rotate(-90)" font-size="8.6" textLength="32.5" lengthAdjust="spacingAndGlyphs">copies/10</text>
<text transform="translate(4.6,299.9) rotate(-90)" font-size="5.2" textLength="3.0" lengthAdjust="spacingAndGlyphs">6</text>
<text transform="translate(7.4,294.5) rotate(-90)" font-size="8.6" textLength="27.1" lengthAdjust="spacingAndGlyphs">PBMCs)</text>
</g>
</svg>
</body></html>
